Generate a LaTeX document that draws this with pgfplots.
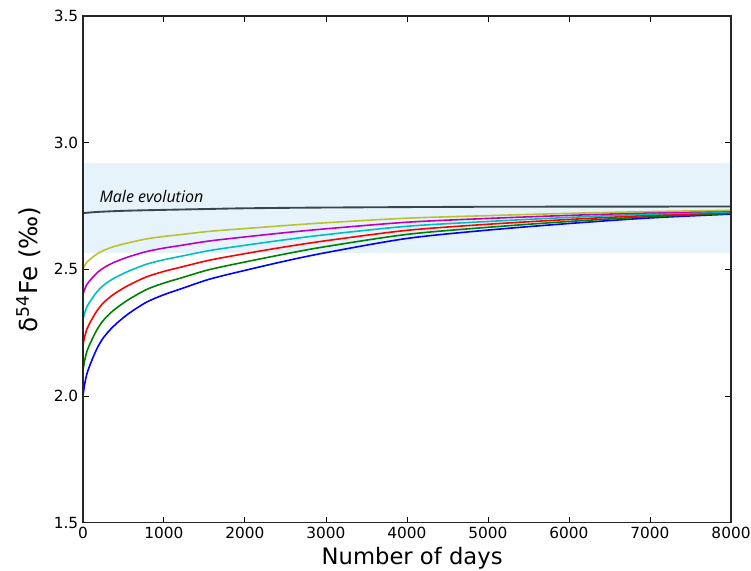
\documentclass[border=0pt]{standalone}
\usepackage{fontspec}
\setmainfont{DejaVu Sans}
\newfontfamily\labelfont{Open Sans}
\usepackage{pgfplots}
\pgfplotsset{compat=1.18}
\definecolor{colB}{rgb}{0,0,1}
\definecolor{colG}{rgb}{0,0.5,0}
\definecolor{colR}{rgb}{1,0,0}
\definecolor{colC}{rgb}{0,0.75,0.75}
\definecolor{colM}{rgb}{0.75,0,0.75}
\definecolor{colY}{rgb}{0.72,0.76,0.2}
\definecolor{band}{HTML}{E6F3FA}
\definecolor{male}{HTML}{3A464C}
\pgfplotstableread{
day yel mag cyn red grn blu
0    2.500 2.400 2.300 2.200 2.100 2.000
20   2.514 2.420 2.326 2.232 2.138 2.044
50   2.529 2.441 2.353 2.265 2.177 2.089
100  2.543 2.461 2.379 2.297 2.215 2.133
170  2.560 2.485 2.410 2.335 2.260 2.185
250  2.574 2.505 2.436 2.367 2.298 2.229
373  2.589 2.526 2.463 2.400 2.337 2.274
550  2.604 2.548 2.491 2.435 2.378 2.322
782  2.620 2.570 2.520 2.470 2.420 2.370
1000 2.630 2.584 2.538 2.492 2.446 2.400
1200 2.637 2.594 2.551 2.508 2.465 2.422
1560 2.650 2.612 2.574 2.536 2.499 2.461
2000 2.661 2.628 2.595 2.562 2.529 2.496
2500 2.673 2.645 2.617 2.589 2.561 2.533
3000 2.684 2.660 2.637 2.613 2.590 2.566
4000 2.702 2.686 2.670 2.654 2.638 2.622
5000 2.712 2.701 2.689 2.678 2.666 2.655
6000 2.721 2.713 2.705 2.697 2.689 2.681
7000 2.728 2.723 2.718 2.713 2.708 2.703
8000 2.733 2.730 2.727 2.724 2.721 2.718
}\curves
\pgfplotstableread{
day val
0    2.722
200  2.727
600  2.732
1500 2.738
2000 2.741
3000 2.744
5000 2.747
8000 2.748
}\malecurve
\begin{document}
\begin{tikzpicture}
\begin{axis}[
  scale only axis, width=486pt, height=380pt,
  xmin=0, xmax=8000, ymin=1.5, ymax=3.5,
  xtick={0,1000,...,8000}, ytick={1.5,2.0,2.5,3.0,3.5},
  /pgf/number format/assume math mode=true,
  x tick label style={/pgf/number format/1000 sep={}, font=\fontsize{11.5}{13}\selectfont},
  y tick label style={/pgf/number format/.cd, fixed, fixed zerofill, precision=1, /tikz/.cd, font=\fontsize{11.5}{13}\selectfont},
  tick align=inside, major tick length=4.5pt,
  tick style={black, line width=0.7pt},
  axis line style={black!85, line width=1pt},
  axis on top,
  xlabel={Number of days},
  ylabel={δ\textsuperscript{54}Fe (‰)},
  xlabel style={font=\fontsize{17}{20}\selectfont, at={(axis description cs:0.508,-0.083)}, anchor=base},
  ylabel style={font=\fontsize{18.5}{22}\selectfont, at={(axis description cs:-0.0707,0.5)}, anchor=base},
]
\addplot[fill=band, draw=none] coordinates {(0,2.565) (8000,2.565) (8000,2.92) (0,2.92)} -- cycle;
\addplot[colB, line width=1.2pt, smooth] table[x=day, y=blu] {\curves};
\addplot[colG, line width=1.2pt, smooth] table[x=day, y=grn] {\curves};
\addplot[colR, line width=1.2pt, smooth] table[x=day, y=red] {\curves};
\addplot[colC, line width=1.2pt, smooth] table[x=day, y=cyn] {\curves};
\addplot[colM, line width=1.2pt, smooth] table[x=day, y=mag] {\curves};
\addplot[colY, line width=1.2pt, smooth] table[x=day, y=yel] {\curves};
\addplot[male, line width=1.4pt, smooth] table[x=day, y=val] {\malecurve};
\node[anchor=base west, font=\labelfont\itshape\fontsize{12}{14}\selectfont, text=black] at (axis cs:147,2.764) {Male evolution};
\coordinate (ll) at (rel axis cs:0,0);
\coordinate (ur) at (rel axis cs:1,1);
\end{axis}
\pgfresetboundingbox
\path (ll) ++(-62.2pt,-36pt) coordinate (bba);
\path (ur) ++(15pt,12pt) coordinate (bbb);
\path[use as bounding box] (bba) rectangle (bbb);
\end{tikzpicture}
\end{document}
